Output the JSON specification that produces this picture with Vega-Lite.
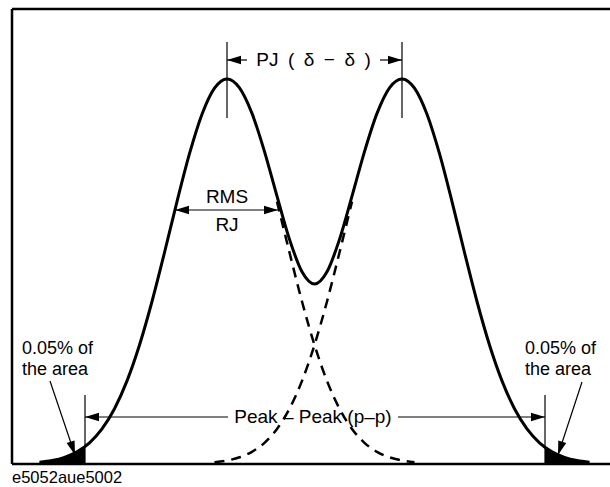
{
  "$schema": "https://vega.github.io/schema/vega-lite/v6.json",
  "width": 610,
  "height": 487,
  "padding": 0,
  "autosize": {"type": "none"},
  "background": "white",
  "config": {"view": {"stroke": null}, "text": {"font": "Liberation Sans"}},
  "datasets": {
    "frame": [
      {"x": 12, "x2": 610, "h": 455, "h2": 455},
      {"x": 12, "x2": 12, "h": 0, "h2": 455},
      {"x": 12, "x2": 610, "h": 0, "h2": 0}
    ],
    "guides": [
      {"x": 227, "x2": 227, "h": 346, "h2": 422},
      {"x": 402, "x2": 402, "h": 346, "h2": 422},
      {"x": 227, "x2": 247, "h": 404, "h2": 404},
      {"x": 380, "x2": 402, "h": 404, "h2": 404},
      {"x": 175, "x2": 278, "h": 254, "h2": 254},
      {"x": 85, "x2": 85, "h": 0, "h2": 69},
      {"x": 545, "x2": 545, "h": 0, "h2": 69},
      {"x": 85, "x2": 228, "h": 47, "h2": 47},
      {"x": 398, "x2": 545, "h": 47, "h2": 47},
      {"x": 50, "x2": 75, "h": 83, "h2": 9},
      {"x": 582, "x2": 558, "h": 82, "h2": 9}
    ],
    "solid": [
      {"x": 39.5, "h": 1.8}, {"x": 52, "h": 3.5}, {"x": 64.5, "h": 6.7}, {"x": 77, "h": 12.2},
      {"x": 89.5, "h": 21.2}, {"x": 102, "h": 35.1}, {"x": 114.5, "h": 55.3}, {"x": 127, "h": 83.1},
      {"x": 139.5, "h": 119.0}, {"x": 152, "h": 162.5}, {"x": 164.5, "h": 211.5}, {"x": 177, "h": 262.4},
      {"x": 189.5, "h": 310.3}, {"x": 202, "h": 349.8}, {"x": 214.5, "h": 375.9}, {"x": 227, "h": 385.1},
      {"x": 239.5, "h": 376.2}, {"x": 252, "h": 350.6}, {"x": 264.5, "h": 312.4}, {"x": 277, "h": 267.8},
      {"x": 289.5, "h": 224.6}, {"x": 302, "h": 192.2}, {"x": 314.5, "h": 180.0}, {"x": 327, "h": 192.2},
      {"x": 339.5, "h": 224.6}, {"x": 352, "h": 267.8}, {"x": 364.5, "h": 312.4}, {"x": 377, "h": 350.6},
      {"x": 389.5, "h": 376.2}, {"x": 402, "h": 385.1}, {"x": 414.5, "h": 375.9}, {"x": 427, "h": 349.8},
      {"x": 439.5, "h": 310.3}, {"x": 452, "h": 262.4}, {"x": 464.5, "h": 211.5}, {"x": 477, "h": 162.5},
      {"x": 489.5, "h": 119.0}, {"x": 502, "h": 83.1}, {"x": 514.5, "h": 55.3}, {"x": 527, "h": 35.1},
      {"x": 539.5, "h": 21.2}, {"x": 552, "h": 12.2}, {"x": 564.5, "h": 6.7}, {"x": 577, "h": 3.5},
      {"x": 589.5, "h": 1.8}
    ],
    "dashed": [
      {"s": "left", "x": 277, "h": 262.4}, {"s": "left", "x": 289.5, "h": 211.5}, {"s": "left", "x": 302, "h": 162.5},
      {"s": "left", "x": 314.5, "h": 119.0}, {"s": "left", "x": 327, "h": 83.1}, {"s": "left", "x": 339.5, "h": 55.3},
      {"s": "left", "x": 352, "h": 35.1}, {"s": "left", "x": 364.5, "h": 21.2}, {"s": "left", "x": 377, "h": 12.2},
      {"s": "left", "x": 389.5, "h": 6.7}, {"s": "left", "x": 402, "h": 3.5}, {"s": "left", "x": 414.5, "h": 1.8},
      {"s": "right", "x": 214.5, "h": 1.8}, {"s": "right", "x": 227, "h": 3.5}, {"s": "right", "x": 239.5, "h": 6.7},
      {"s": "right", "x": 252, "h": 12.2}, {"s": "right", "x": 264.5, "h": 21.2}, {"s": "right", "x": 277, "h": 35.1},
      {"s": "right", "x": 289.5, "h": 55.3}, {"s": "right", "x": 302, "h": 83.1}, {"s": "right", "x": 314.5, "h": 119.0},
      {"s": "right", "x": 327, "h": 162.5}, {"s": "right", "x": 339.5, "h": 211.5}, {"s": "right", "x": 352, "h": 262.4}
    ],
    "tails": [
      {"s": "left", "x": 39.5, "h": 1.8}, {"s": "left", "x": 52, "h": 3.5}, {"s": "left", "x": 64.5, "h": 6.7},
      {"s": "left", "x": 77, "h": 12.2}, {"s": "left", "x": 85, "h": 17.5},
      {"s": "right", "x": 545, "h": 16.7}, {"s": "right", "x": 552, "h": 12.2}, {"s": "right", "x": 564.5, "h": 6.7},
      {"s": "right", "x": 577, "h": 3.5}, {"s": "right", "x": 589.5, "h": 1.8}
    ],
    "heads": [
      {"x": 227, "h": 404, "dir": "W"}, {"x": 402, "h": 404, "dir": "E"},
      {"x": 175, "h": 254, "dir": "W"}, {"x": 278, "h": 254, "dir": "E"},
      {"x": 85, "h": 47, "dir": "W"}, {"x": 545, "h": 47, "dir": "E"},
      {"x": 75, "h": 9, "dir": "SE"}, {"x": 558, "h": 9, "dir": "SW"}
    ],
    "centred": [
      {"x": 313.5, "h": 404, "t": "PJ\u2002(\u2002δ\u2002−\u2002δ\u2002)"},
      {"x": 227, "h": 267, "t": "RMS"},
      {"x": 227, "h": 239, "t": "RJ"},
      {"x": 313, "h": 47, "t": "Peak – Peak (p–p)"}
    ],
    "notes": [
      {"x": 22, "h": 115, "t": "0.05% of"},
      {"x": 22, "h": 94, "t": "the area"},
      {"x": 525, "h": 115, "t": "0.05% of"},
      {"x": 525, "h": 94, "t": "the area"}
    ],
    "caption": [
      {"x": 12, "h": -14, "t": "e5052aue5002"}
    ]
  },
  "encoding": {
    "x": {"field": "x", "type": "quantitative", "scale": {"domain": [0, 610], "nice": false, "zero": false}, "axis": null},
    "y": {"field": "h", "type": "quantitative", "scale": {"domain": [-23, 464], "nice": false, "zero": false}, "axis": null}
  },
  "layer": [
    {
      "data": {"name": "tails"},
      "mark": {"type": "area", "color": "black", "interpolate": "monotone", "opacity": 1},
      "encoding": {
        "y": {"field": "h", "type": "quantitative", "stack": null},
        "detail": {"field": "s", "type": "nominal"}
      }
    },
    {
      "data": {"name": "frame"},
      "mark": {"type": "rule", "color": "black", "strokeWidth": 2.5},
      "encoding": {"x2": {"field": "x2"}, "y2": {"field": "h2"}}
    },
    {
      "data": {"name": "guides"},
      "mark": {"type": "rule", "color": "black", "strokeWidth": 1.2},
      "encoding": {"x2": {"field": "x2"}, "y2": {"field": "h2"}}
    },
    {
      "data": {"name": "dashed"},
      "mark": {"type": "line", "color": "black", "strokeWidth": 2.5, "strokeDash": [10, 7], "interpolate": "monotone"},
      "encoding": {"detail": {"field": "s", "type": "nominal"}}
    },
    {
      "data": {"name": "solid"},
      "mark": {"type": "line", "color": "black", "strokeWidth": 3, "interpolate": "monotone"},
      "encoding": {}
    },
    {
      "data": {"name": "heads"},
      "mark": {"type": "point", "filled": true, "color": "black", "opacity": 1, "size": 196},
      "encoding": {
        "shape": {
          "field": "dir", "type": "nominal", "legend": null,
          "scale": {
            "domain": ["E", "W", "SE", "SW"],
            "range": ["M0,0L-2,-0.6L-2,0.6Z", "M0,0L2,-0.6L2,0.6Z", "M0,0L-0.063,-2.088L-1.201,-1.708Z", "M0,0L1.179,-1.722L0.037,-2.086Z"]
          }
        }
      }
    },
    {
      "data": {"name": "centred"},
      "mark": {"type": "text", "color": "black", "fontSize": 19, "baseline": "middle", "align": "center"},
      "encoding": {"text": {"field": "t"}}
    },
    {
      "data": {"name": "notes"},
      "mark": {"type": "text", "color": "black", "fontSize": 18, "baseline": "middle", "align": "left"},
      "encoding": {"text": {"field": "t"}}
    },
    {
      "data": {"name": "caption"},
      "mark": {"type": "text", "color": "black", "fontSize": 16.5, "baseline": "middle", "align": "left"},
      "encoding": {"text": {"field": "t"}}
    }
  ]
}
